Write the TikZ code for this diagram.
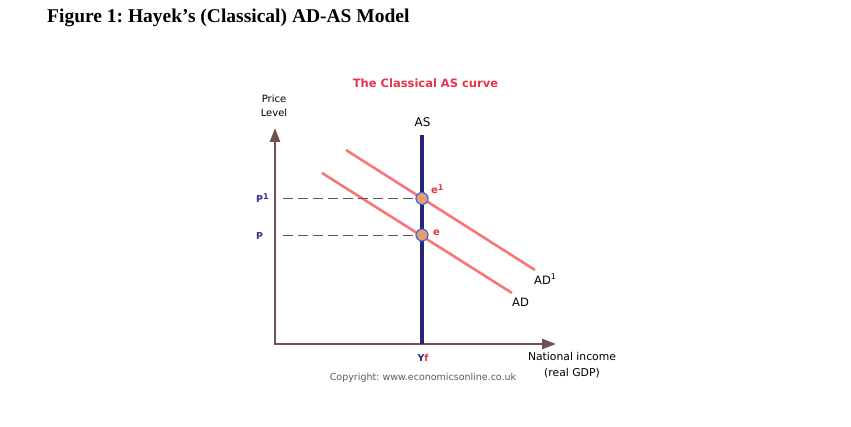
\documentclass[tikz,border=0pt]{standalone}
\usepackage{fontspec}
\setmainfont{Liberation Serif}
\newfontfamily\vf{DejaVu Sans}
\usetikzlibrary{arrows.meta}
\frenchspacing
\definecolor{titlered}{RGB}{232,52,74}
\definecolor{adpink}{RGB}{248,118,122}
\definecolor{asnavy}{RGB}{38,38,118}
\definecolor{axbrown}{RGB}{112,82,82}
\definecolor{dashcol}{RGB}{100,85,75}
\definecolor{dotfill}{RGB}{226,160,110}
\definecolor{dotedge}{RGB}{60,90,230}
\definecolor{lblnavy}{RGB}{50,50,140}
\definecolor{copygray}{RGB}{90,90,90}
\newcommand{\upone}[1]{\raisebox{#1}{\fontsize{8}{9}\selectfont 1}}
\tikzset{
  axisline/.style={draw=axbrown,line width=2.4pt,-{Triangle[length=14pt,width=10pt]}},
  asline/.style={draw=asnavy,line width=3.4pt},
  adline/.style={draw=adpink,line width=2.6pt},
  guide/.style={draw=dashcol,line width=0.9pt,dash pattern=on 10pt off 5pt},
  eqdot/.style={circle,fill=dotfill,draw=dotedge,line width=1.1pt,minimum size=12pt,inner sep=0pt},
  plain/.style={inner sep=0pt,font=\vf\fontsize{11}{13}\selectfont},
  plab/.style={inner sep=0pt,text=lblnavy,font=\vf\bfseries\fontsize{9.5}{11}\selectfont},
  elab/.style={inner sep=0pt,text=titlered,font=\vf\bfseries\fontsize{10}{11}\selectfont},
}
\begin{document}
\begin{tikzpicture}[x=1pt,y=-1pt]
\useasboundingbox[fill=white] (0,0) rectangle (851,427);
% title
\node[anchor=west,inner sep=0pt,font=\bfseries\fontsize{19.5}{22}\selectfont] (title) at (47,18) {Figure 1: Hayek’s (Classical) AD-AS Model};
\node[inner sep=0pt,text=titlered,font=\vf\bfseries\fontsize{11.5}{13}\selectfont] (sub) at (425.5,83) {The Classical AS curve};
% axes
\coordinate (O) at (275,344);
\coordinate (ytop) at (275,128);
\coordinate (xend) at (556,344);
\draw[axisline] (O) -- (ytop);
\draw[axisline] ([xshift=-1.2pt]O) -- (xend);
\node[plain,font=\vf\fontsize{10}{14}\selectfont,align=center] (plevel) at (274,106) {Price\\Level};
% AS
\coordinate (AStop) at (422,135);
\coordinate (ASbot) at (422,344);
\draw[asline] (AStop) -- (ASbot);
\node[plain,font=\vf\fontsize{12}{14}\selectfont] (aslab) at (422.5,122) {AS};
% AD curves
\coordinate (AD1a) at (346,150);
\coordinate (AD1b) at (535,270);
\coordinate (ADa) at (322,173);
\coordinate (ADb) at (512,293);
\draw[adline] (AD1a) -- (AD1b);
\draw[adline] (ADa) -- (ADb);
\node[plain,anchor=west,font=\vf\fontsize{11.5}{13}\selectfont] (ad1lab) at (534,279) {AD\upone{4.5pt}};
\node[plain,anchor=west,font=\vf\fontsize{11.5}{13}\selectfont] (adlab) at (512,302) {AD};
% guides and equilibria
\coordinate (g1) at (283,198.5);
\coordinate (g0) at (283,235);
\node[eqdot] (e1) at (422,198.5) {};
\node[eqdot] (e0) at (422,235) {};
\draw[guide] (g1) -- (e1.west);
\draw[guide] (g0) -- (e0.west);
\node[plab,anchor=west] (p1lab) at (256,198) {P\upone{3pt}};
\node[plab,anchor=west] (p0lab) at (256,236) {P};
\node[elab,anchor=west] (e1lab) at (431,189) {e\upone{3pt}};
\node[elab,anchor=west] (e0lab) at (433,233) {e};
% x labels
\node[inner sep=0pt,font=\vf\bfseries\fontsize{9.5}{11}\selectfont] (yf) at (423,358) {\textcolor{asnavy}{Y}\textcolor{titlered}{f}};
\node[plain,align=center,font=\vf\fontsize{10.8}{15.5}\selectfont] (nat) at (572,365) {National income\\(real GDP)};
\node[inner sep=0pt,text=copygray,font=\vf\fontsize{9.5}{11}\selectfont] (copy) at (423,378) {Copyright: www.economicsonline.co.uk};
\end{tikzpicture}
\end{document}
